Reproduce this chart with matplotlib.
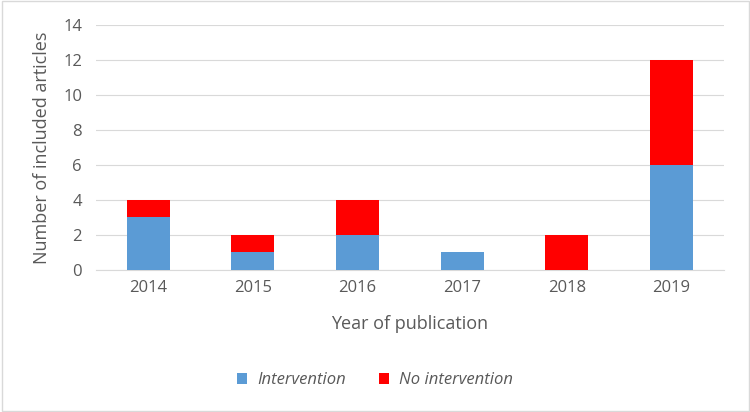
import matplotlib.pyplot as plt
from matplotlib.patches import Rectangle

years = ['2014', '2015', '2016', '2017', '2018', '2019']
intervention = [3, 1, 2, 1, 0, 6]
no_intervention = [1, 1, 2, 0, 2, 6]

plt.rcParams['font.family'] = ['Open Sans', 'DejaVu Sans']
txt = '#595959'

fig = plt.figure(figsize=(7.5, 4.12), dpi=100)
ax = fig.add_axes([0.128, 0.345, 0.837, 0.594])

x = range(len(years))
ax.bar(x, intervention, width=0.41, color='#5b9bd5', label='Intervention', zorder=3)
ax.bar(x, no_intervention, width=0.41, bottom=intervention, color='#ff0000',
       label='No intervention', zorder=3)

ax.set_xlim(-0.5, len(years) - 0.5)
ax.set_ylim(0, 14)
ax.set_yticks(range(0, 15, 2))
ax.set_xticks(list(x))
ax.set_xticklabels(years)
ax.grid(axis='y', color='#d9d9d9', linewidth=0.8, zorder=0)
ax.tick_params(axis='both', length=0, colors=txt, labelsize=12)
ax.tick_params(axis='y', pad=10)
ax.tick_params(axis='x', pad=7)
for s in ['top', 'right', 'left']:
    ax.spines[s].set_visible(False)
ax.spines['bottom'].set_color('#d9d9d9')

ax.set_xlabel('Year of publication', fontsize=13, color=txt, labelpad=14)
ax.set_ylabel('Number of included articles', fontsize=13, color=txt, labelpad=9)

leg = fig.legend(loc='center', bbox_to_anchor=(0.5, 0.077), ncol=2, frameon=False,
                 prop={'style': 'italic', 'size': 12}, handlelength=0.6, handleheight=0.6,
                 columnspacing=2.0, handletextpad=0.6)
for t in leg.get_texts():
    t.set_color(txt)

fig.patches.append(Rectangle((0.002, 0.003), 0.996, 0.994, transform=fig.transFigure,
                             fill=False, edgecolor='#d9d9d9', linewidth=1))

fig.savefig('out.png', dpi=100)
